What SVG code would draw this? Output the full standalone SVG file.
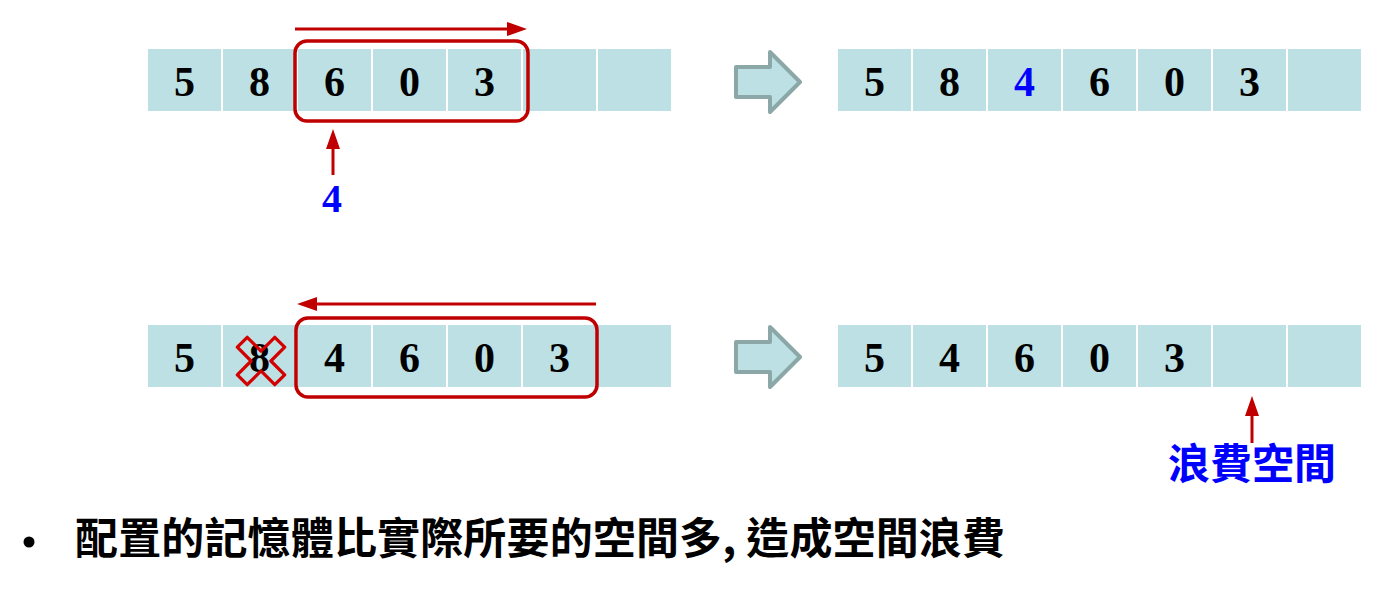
<svg xmlns="http://www.w3.org/2000/svg" width="1392" height="589" viewBox="0 0 1392 589">
<style>
.cell{fill:#BCE0E3}
.num{font-family:"Liberation Serif","Times New Roman",serif;font-weight:bold;font-size:42px;fill:#000;text-anchor:middle}
.blue{fill:#0000FF}
.frame{fill:none;stroke:#C00000;stroke-width:3.5}
.conn{fill:none;stroke:#C00000;stroke-width:3}
.block{fill:#BCE0E3;stroke:#8BA7A8;stroke-width:4;stroke-linejoin:round}
.cjk{font-family:"Noto Sans CJK TC","Noto Sans CJK SC",sans-serif;font-weight:bold}
</style>
<defs>
<marker id="ah" markerUnits="userSpaceOnUse" markerWidth="20" markerHeight="14" refX="1" refY="7" orient="auto" viewBox="0 0 20 14">
<path d="M0,0 L20,7 L0,14 z" fill="#C00000"/>
</marker>
</defs>
<rect width="1392" height="589" fill="#fff"/>

<!-- top-left array -->
<g id="tl">
<g id="tl1"><rect class="cell" x="148" y="49" width="73" height="62"/><text class="num" x="184.5" y="96">5</text></g>
<g id="tl2"><rect class="cell" x="223" y="49" width="73" height="62"/><text class="num" x="259.5" y="96">8</text></g>
<g id="tl3"><rect class="cell" x="298" y="49" width="73" height="62"/><text class="num" x="334.5" y="96">6</text></g>
<g id="tl4"><rect class="cell" x="373" y="49" width="73" height="62"/><text class="num" x="409.5" y="96">0</text></g>
<g id="tl5"><rect class="cell" x="448" y="49" width="73" height="62"/><text class="num" x="484.5" y="96">3</text></g>
<g id="tl6"><rect class="cell" x="523" y="49" width="73" height="62"/></g>
<g id="tl7"><rect class="cell" x="598" y="49" width="73" height="62"/></g>
</g>
<g id="tl-frame"><rect class="frame" x="295" y="41" width="233" height="80" rx="12"/></g>
<g id="insert-label"><text class="num blue" x="332" y="212" style="font-size:40px">4</text></g>

<!-- top block arrow -->
<g id="arrow-top"><path class="block" d="M736,67 L770,67 L770,52 L800,82 L770,112 L770,97 L736,97 Z"/></g>

<!-- top-right array -->
<g id="tr">
<g id="tr1"><rect class="cell" x="838" y="49" width="73" height="62"/><text class="num" x="874.5" y="96">5</text></g>
<g id="tr2"><rect class="cell" x="913" y="49" width="73" height="62"/><text class="num" x="949.5" y="96">8</text></g>
<g id="tr3"><rect class="cell" x="988" y="49" width="73" height="62"/><text class="num blue" x="1024.5" y="96">4</text></g>
<g id="tr4"><rect class="cell" x="1063" y="49" width="73" height="62"/><text class="num" x="1099.5" y="96">6</text></g>
<g id="tr5"><rect class="cell" x="1138" y="49" width="73" height="62"/><text class="num" x="1174.5" y="96">0</text></g>
<g id="tr6"><rect class="cell" x="1213" y="49" width="73" height="62"/><text class="num" x="1249.5" y="96">3</text></g>
<g id="tr7"><rect class="cell" x="1288" y="49" width="73" height="62"/></g>
</g>

<!-- bottom-left array -->
<g id="bl">
<g id="bl1"><rect class="cell" x="148" y="325" width="73" height="62"/><text class="num" x="184.5" y="372">5</text></g>
<g id="bl2"><rect class="cell" x="223" y="325" width="73" height="62"/><text class="num" x="259.5" y="372">8</text></g>
<g id="bl3"><rect class="cell" x="298" y="325" width="73" height="62"/><text class="num" x="334.5" y="372">4</text></g>
<g id="bl4"><rect class="cell" x="373" y="325" width="73" height="62"/><text class="num" x="409.5" y="372">6</text></g>
<g id="bl5"><rect class="cell" x="448" y="325" width="73" height="62"/><text class="num" x="484.5" y="372">0</text></g>
<g id="bl6"><rect class="cell" x="523" y="325" width="73" height="62"/><text class="num" x="559.5" y="372">3</text></g>
<g id="bl7"><rect class="cell" x="598" y="325" width="73" height="62"/></g>
</g>
<g id="delete-mark"><path transform="translate(261,361) rotate(45)" fill="none" stroke="#D40000" stroke-width="3.2" stroke-linejoin="round" d="M-7,-26.5 L7,-26.5 L7,-7 L26.5,-7 L26.5,7 L7,7 L7,26.5 L-7,26.5 L-7,7 L-26.5,7 L-26.5,-7 L-7,-7 Z"/></g>
<g id="bl-frame"><rect class="frame" x="296" y="318" width="301" height="79" rx="12"/></g>

<!-- bottom block arrow -->
<g id="arrow-bottom"><path class="block" d="M736,342 L770,342 L770,327 L800,357 L770,387 L770,372 L736,372 Z"/></g>

<!-- bottom-right array -->
<g id="br">
<g id="br1"><rect class="cell" x="838" y="325" width="73" height="62"/><text class="num" x="874.5" y="372">5</text></g>
<g id="br2"><rect class="cell" x="913" y="325" width="73" height="62"/><text class="num" x="949.5" y="372">4</text></g>
<g id="br3"><rect class="cell" x="988" y="325" width="73" height="62"/><text class="num" x="1024.5" y="372">6</text></g>
<g id="br4"><rect class="cell" x="1063" y="325" width="73" height="62"/><text class="num" x="1099.5" y="372">0</text></g>
<g id="br5"><rect class="cell" x="1138" y="325" width="73" height="62"/><text class="num" x="1174.5" y="372">3</text></g>
<g id="br6"><rect class="cell" x="1213" y="325" width="73" height="62"/></g>
<g id="br7"><rect class="cell" x="1288" y="325" width="73" height="62"/></g>
</g>
<g id="waste-label"><text class="cjk" x="1252" y="479" text-anchor="middle" font-size="42" fill="#0000FF">浪費空間</text></g>

<!-- connectors -->
<g id="connectors">
<path class="conn" d="M295,29 L508,29" marker-end="url(#ah)"/>
<path class="conn" d="M333,175 L333,148" marker-end="url(#ah)"/>
<path class="conn" d="M596,304 L316,304" marker-end="url(#ah)"/>
<path class="conn" d="M1252,443 L1252,415" marker-end="url(#ah)"/>
</g>

<!-- bullet text -->
<g id="bullet">
<circle cx="29" cy="542" r="5.5" fill="#000"/>
<text class="cjk" x="75" y="554" font-size="43" fill="#000" textLength="930" lengthAdjust="spacing">配置的記憶體比實際所要的空間多, 造成空間浪費</text>
</g>
</svg>
